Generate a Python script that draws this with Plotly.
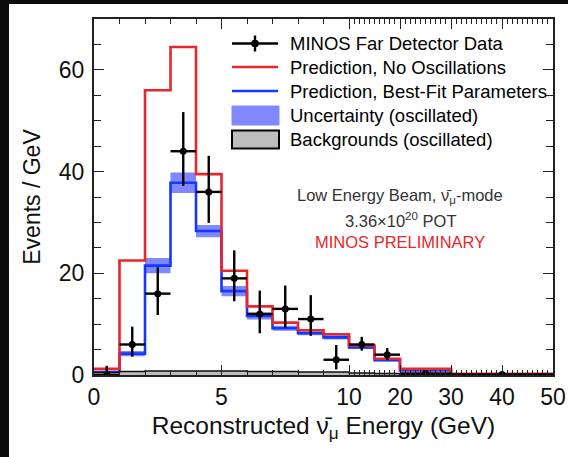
import plotly.graph_objects as go

# ---------------- data ----------------
bin_edges_gev = [0, 1, 2, 3, 4, 5, 6, 7, 8, 9, 10, 15, 20, 30, 50]
data_vals = [0, 6, 16, 44, 36, 19, 12, 13, 11, 3, 6, 4, 0.3, 0.1]
data_err_lo = [0, 2.4, 4.2, 6.8, 6.1, 4.5, 3.8, 3.7, 3.3, 1.9, 1.2, 1.1, 0.2, 0.08]
data_err_hi = [1.8, 3.5, 5.2, 7.7, 7.1, 5.5, 4.6, 4.6, 4.7, 2.9, 1.5, 1.3, 0.3, 0.15]
pred_no_osc = [1.2, 22.5, 56, 64.5, 39.5, 20.5, 13.5, 10.3, 8.8, 8.0, 5.8, 3.2, 1.2, 0.25]
pred_best_fit = [0.6, 4.2, 21.5, 37.8, 28.3, 16.5, 11.6, 9.2, 8.2, 7.4, 5.4, 2.9, 0.9, 0.15]
unc_half = [0.2, 0.5, 1.5, 2.0, 1.2, 1.0, 0.7, 0.5, 0.4, 0.4, 0.3, 0.2, 0.1, 0.05]
backgrounds = [0.5, 0.7, 0.8, 0.8, 0.8, 0.8, 0.7, 0.7, 0.6, 0.6, 0.4, 0.3, 0.15, 0.05]
xtick_gev = [0, 5, 10, 20, 30, 40, 50]
xtick_text = ["0", "5", "10", "20", "30", "40", "50"]
ytick_vals = [0, 20, 40, 60]
legend_labels = ["MINOS Far Detector Data", "Prediction, No Oscillations",
                 "Prediction, Best-Fit Parameters", "Uncertainty (oscillated)",
                 "Backgrounds (oscillated)"]


def tx(e):
    """Axis transform: linear up to 10 GeV, compressed by 5 above."""
    return e if e <= 10 else 10 + (e - 10) / 5.0


RED = "#e8262b"
BLUE = "#1438ff"
BAND = "#8088ff"
FONT = "Liberation Sans, Arial, sans-serif"

xe = [tx(e) for e in bin_edges_gev]
xc = [(xe[i] + xe[i + 1]) / 2 for i in range(len(xe) - 1)]
xhw = [(xe[i + 1] - xe[i]) / 2 for i in range(len(xe) - 1)]


def step(vals):
    return list(vals) + [vals[-1]]


fig = go.Figure()

lo = [v - u for v, u in zip(pred_best_fit, unc_half)]
hi = [v + u for v, u in zip(pred_best_fit, unc_half)]
fig.add_trace(go.Scatter(x=xe, y=step(lo), mode="lines", line=dict(width=0, shape="hv"),
                         showlegend=False, hoverinfo="skip"))
fig.add_trace(go.Scatter(x=xe, y=step(hi), mode="lines", line=dict(width=0, shape="hv"),
                         fill="tonexty", fillcolor=BAND, name=legend_labels[3], showlegend=False))
fig.add_trace(go.Scatter(x=xe, y=step(pred_best_fit), mode="lines",
                         line=dict(color=BLUE, width=2.6, shape="hv"),
                         name=legend_labels[2], showlegend=False))
fig.add_trace(go.Scatter(x=xe, y=step(pred_no_osc), mode="lines",
                         line=dict(color=RED, width=2.6, shape="hv"),
                         name=legend_labels[1], showlegend=False))
fig.add_trace(go.Scatter(x=xe, y=step(backgrounds), mode="lines",
                         line=dict(color="#111111", width=1.6, shape="hv"),
                         fill="tozeroy", fillcolor="#bdbdbd",
                         name=legend_labels[4], showlegend=False))
fig.add_trace(go.Scatter(
    x=xc, y=data_vals, mode="markers",
    marker=dict(color="black", size=7),
    error_x=dict(type="data", array=xhw, symmetric=True, color="black", thickness=2.4, width=0),
    error_y=dict(type="data", array=data_err_hi, arrayminus=data_err_lo, symmetric=False,
                 color="black", thickness=2.4, width=0),
    name=legend_labels[0], showlegend=False, cliponaxis=True))

# ---------------- layout geometry ----------------
L, R, T, B = 94, 553, 19, 375
W, H = 568, 457


def px(x):
    return (x - L) / (R - L)


def py(y):
    return (B - y) / (B - T)


minor_x = [float(i) for i in range(1, 10)] + [tx(e) for e in range(11, 50) if e not in (20, 30, 40)]
minor_y = [v for v in range(5, 70, 5) if v not in ytick_vals]

shapes = []
# dark photo border (left & top)
shapes.append(dict(type="rect", xref="paper", yref="paper", x0=px(0), x1=px(9), y0=py(H), y1=py(0),
                   fillcolor="#0b0b0b", line=dict(width=0), layer="above"))
shapes.append(dict(type="rect", xref="paper", yref="paper", x0=px(0), x1=px(W), y0=py(4), y1=py(0),
                   fillcolor="#0b0b0b", line=dict(width=0), layer="above"))

# ---------------- manual legend ----------------
rows = [43.5, 67, 91, 115.5, 139.5]
sx0, sx1 = 232, 278
shapes.append(dict(type="line", xref="paper", yref="paper", x0=px(sx0), x1=px(sx1),
                   y0=py(rows[0]), y1=py(rows[0]), line=dict(color="black", width=2.4)))
shapes.append(dict(type="line", xref="paper", yref="paper", x0=px(255), x1=px(255),
                   y0=py(rows[0] - 8), y1=py(rows[0] + 8), line=dict(color="black", width=2.4)))
shapes.append(dict(type="circle", xref="paper", yref="paper", x0=px(251.5), x1=px(258.5),
                   y0=py(rows[0] - 3.5), y1=py(rows[0] + 3.5), fillcolor="black",
                   line=dict(color="black", width=1)))
shapes.append(dict(type="line", xref="paper", yref="paper", x0=px(sx0), x1=px(sx1),
                   y0=py(rows[1]), y1=py(rows[1]), line=dict(color=RED, width=2.6)))
shapes.append(dict(type="line", xref="paper", yref="paper", x0=px(sx0), x1=px(sx1),
                   y0=py(rows[2]), y1=py(rows[2]), line=dict(color=BLUE, width=2.6)))
shapes.append(dict(type="rect", xref="paper", yref="paper", x0=px(sx0), x1=px(sx1 + 1),
                   y0=py(rows[3] - 9.5), y1=py(rows[3] + 9.5), fillcolor=BAND,
                   line=dict(color=BAND, width=1)))
shapes.append(dict(type="rect", xref="paper", yref="paper", x0=px(sx0), x1=px(sx1 + 1),
                   y0=py(rows[4] - 9), y1=py(rows[4] + 9), fillcolor="#bdbdbd",
                   line=dict(color="black", width=2)))

annotations = []
for r, lab in zip(rows, legend_labels):
    annotations.append(dict(xref="paper", yref="paper", x=px(288), y=py(r), text=lab,
                            xanchor="left", yanchor="middle", showarrow=False,
                            font=dict(family=FONT, size=18.5, color="black")))

cx = px(400)
annotations.append(dict(xref="paper", yref="paper", x=cx, y=py(196), showarrow=False,
                        text="Low Energy Beam, \u03bd\u0304<sub>\u03bc</sub>-mode",
                        xanchor="center", yanchor="middle",
                        font=dict(family=FONT, size=16.5, color="#333333")))
annotations.append(dict(xref="paper", yref="paper", x=cx, y=py(220), showarrow=False,
                        text="3.36\u00d710<sup>20</sup> POT",
                        xanchor="center", yanchor="middle",
                        font=dict(family=FONT, size=16.5, color="#333333")))
annotations.append(dict(xref="paper", yref="paper", x=cx, y=py(242), showarrow=False,
                        text="MINOS PRELIMINARY",
                        xanchor="center", yanchor="middle",
                        font=dict(family=FONT, size=16.5, color=RED)))

fig.update_layout(
    template="none",
    width=W, height=H, autosize=False,
    margin=dict(l=L, r=W - R, t=T, b=H - B, pad=0),
    paper_bgcolor="white", plot_bgcolor="white",
    font=dict(family=FONT, size=23, color="black"),
    showlegend=False,
    shapes=shapes, annotations=annotations,
)
fig.update_xaxes(
    automargin=False,
    range=[0, tx(50)], tickmode="array",
    tickvals=[tx(v) for v in xtick_gev], ticktext=xtick_text,
    ticks="inside", ticklen=10, tickwidth=1.3, tickcolor="#222",
    minor=dict(tickmode="array", tickvals=minor_x, ticks="inside", ticklen=5, tickwidth=1.2, tickcolor="#222"),
    showline=True, linecolor="#222", linewidth=2, mirror="ticks",
    showgrid=False, zeroline=False,
    tickfont=dict(family=FONT, size=23, color="#111"),
    title=dict(text="Reconstructed \u03bd\u0304<sub>\u03bc</sub> Energy (GeV)",
               font=dict(family=FONT, size=24.5, color="#111"), standoff=8),
)
fig.update_yaxes(
    automargin=False,
    range=[0, 70], tickmode="array", tickvals=ytick_vals,
    ticks="inside", ticklen=10, tickwidth=1.3, tickcolor="#222",
    minor=dict(tickmode="array", tickvals=minor_y, ticks="inside", ticklen=7, tickwidth=1.2, tickcolor="#222"),
    showline=True, linecolor="#222", linewidth=2, mirror="ticks",
    showgrid=False, zeroline=False, ticklabelstandoff=3,
    tickfont=dict(family=FONT, size=23, color="#111"),
    title=dict(text="Events / GeV", font=dict(family=FONT, size=23, color="#111"), standoff=12),
)

fig.write_html("out.html")
